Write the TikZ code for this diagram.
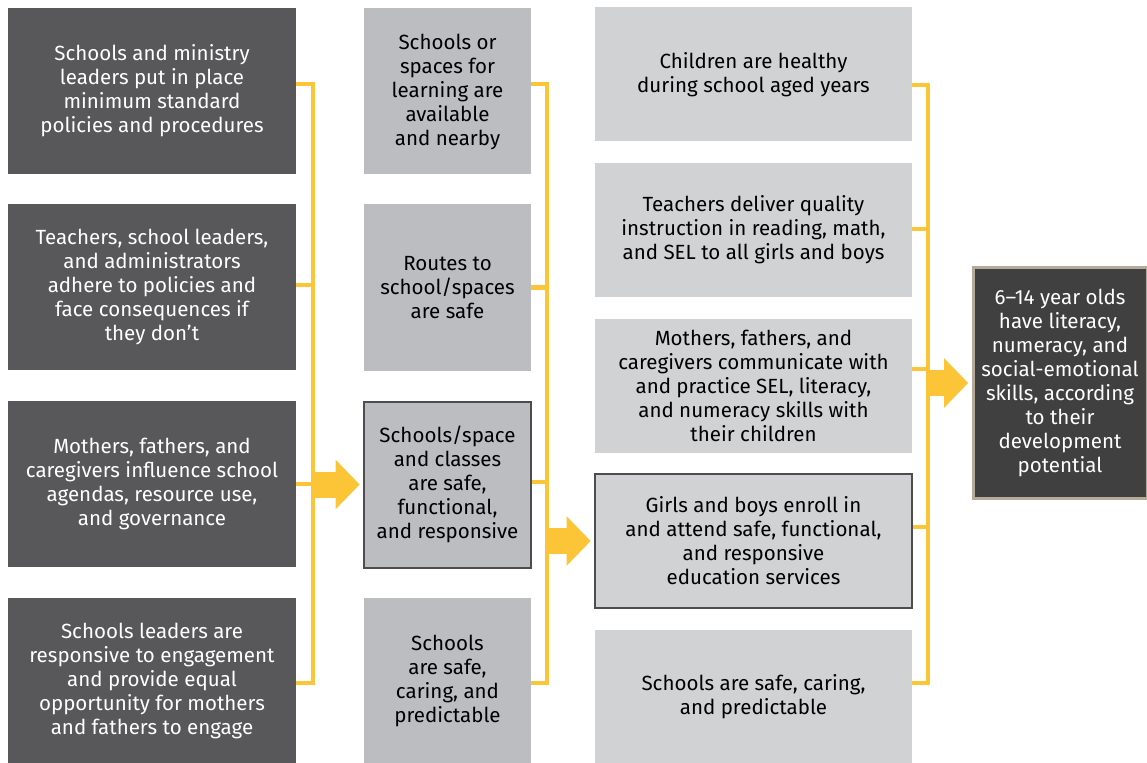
\documentclass[tikz,border=0pt]{standalone}
\usepackage{fontspec}
\setmainfont{Fira Sans}
\usetikzlibrary{arrows.meta}
\definecolor{inputgray}{HTML}{58585A}
\definecolor{outputgray}{HTML}{BCBDC0}
\definecolor{outcomegray}{HTML}{D1D2D4}
\definecolor{goalgray}{HTML}{404041}
\definecolor{goalrim}{HTML}{B3AA9A}
\definecolor{framegray}{HTML}{4D4D4F}
\definecolor{linkyellow}{HTML}{FBC537}
\begin{document}
\begin{tikzpicture}[x=0.75pt,y=-0.75pt,
    txt/.style={align=center,font=\fontsize{15.4}{18}\selectfont,inner sep=0pt},
    input/.style={txt,fill=inputgray,text=white,minimum width=216pt,minimum height=124.5pt},
    output/.style={txt,fill=outputgray,text=black,minimum width=125.25pt,minimum height=124.5pt},
    outcome/.style={txt,fill=outcomegray,text=black,minimum width=237.75pt,minimum height=100.5pt},
    framed/.style={draw=framegray,line width=1.5pt},
    goal/.style={txt,fill=goalgray,text=white,draw=goalrim,line width=2.25pt,minimum width=130.5pt,minimum height=172.5pt},
    bracket/.style={draw=linkyellow,line width=3.5pt,line join=miter},
    flow/.style={draw=linkyellow,line width=19.5pt,shorten >=2.5pt,-{Triangle[length=18pt,width=36pt]}}]
    \useasboundingbox (0,0) rectangle (1147,763);

    % Column 1: inputs
    \node[input] (c1a) at (152,91) {Schools and ministry\\leaders put in place\\minimum standard\\policies and procedures};
    \node[input] (c1b) at (152,287) {Teachers, school leaders,\\and administrators\\adhere to policies and\\face consequences if\\they don’t};
    \node[input] (c1c) at (152,484) {Mothers, fathers, and\\caregivers influence school\\agendas, resource use,\\and governance};
    \node[input] (c1d) at (152,680.5) {Schools leaders are\\responsive to engagement\\and provide equal\\opportunity for mothers\\and fathers to engage};

    % Column 2: outputs
    \node[output] (c2a) at (447.5,91.5) {Schools or\\spaces for\\learning are\\available\\and nearby};
    \node[output] (c2b) at (447.5,287.5) {Routes to\\school/spaces\\are safe};
    \node[output,framed] (c2c) at (447.5,484.5) {Schools/space\\and classes\\are safe,\\functional,\\and responsive};
    \node[output] (c2d) at (447.5,680.5) {Schools\\are safe,\\caring, and\\predictable};

    % Column 3: outcomes
    \node[outcome] (c3a) at (753.5,74.5) {Children are healthy\\during school aged years};
    \node[outcome] (c3b) at (753.5,230) {Teachers deliver quality\\instruction in reading, math,\\and SEL to all girls and boys};
    \node[outcome] (c3c) at (753.5,386) {Mothers, fathers, and\\caregivers communicate with\\and practice SEL, literacy,\\and numeracy skills with\\their children};
    \node[outcome,framed] (c3d) at (753.5,541) {Girls and boys enroll in\\and attend safe, functional,\\and responsive\\education services};
    \node[outcome] (c3e) at (753.5,696.5) {Schools are safe, caring,\\and predictable};

    % Goal
    \node[goal] (res) at (1060,383) {6–14 year olds\\have literacy,\\numeracy, and\\social-emotional\\skills, according\\to their\\development\\potential};

    % Brackets
    \coordinate (j1a) at (313,84);
    \coordinate (j1d) at (313,683);
    \draw[bracket] (c1a.east |- j1a) -- (j1a) -- (j1d) -- (c1d.east |- j1d);
    \draw[bracket] (c1b.east |- 0,285) -- (j1a |- 0,285);
    \draw[bracket] (c1c.east) -- (j1a |- c1c);

    \coordinate (j2a) at (547,84);
    \coordinate (j2d) at (547,683);
    \draw[bracket] (c2a.east |- j2a) -- (j2a) -- (j2d) -- (c2d.east |- j2d);
    \draw[bracket] (c2b.east) -- (j2a |- c2b);
    \draw[bracket] (c2c.east |- 0,482) -- (j2a |- 0,482);

    \coordinate (j3a) at (928,85);
    \coordinate (j3e) at (928,683);
    \draw[bracket] (c3a.east |- j3a) -- (j3a) -- (j3e) -- (c3e.east |- j3e);
    \draw[bracket] (c3b.east |- 0,229) -- (j3a |- 0,229);
    \draw[bracket] (c3c.east |- 0,369) -- (j3a |- 0,369);
    \draw[bracket] (c3d.east |- 0,527) -- (j3a |- 0,527);

    % Arrows
    \draw[flow] (j1a |- c2c.west) -- (c2c.west);
    \draw[flow] (j2a |- c3d.west) -- (c3d.west);
    \draw[flow] (j3a |- res.west) -- (res.west);
\end{tikzpicture}
\end{document}
